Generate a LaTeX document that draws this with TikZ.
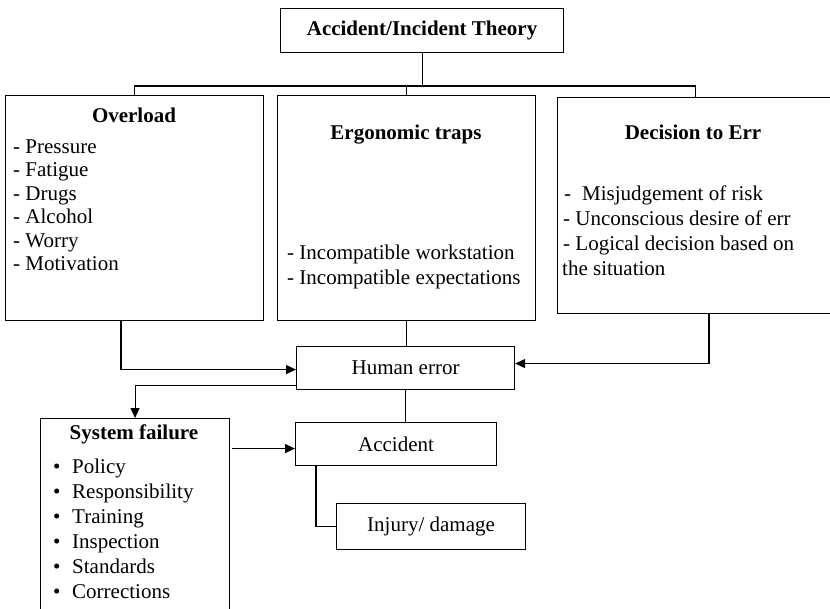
\documentclass[tikz,border=0pt]{standalone}
\usepackage{fontspec}
\setmainfont{Liberation Serif}
\usetikzlibrary{arrows.meta}
\begin{document}
\begin{tikzpicture}[x=1pt,y=-1pt,
  box/.style={draw, line width=1.1pt, inner sep=0pt, anchor=north west,
    font=\fontsize{21}{25}\selectfont},
  link/.style={line width=1.1pt},
  arr/.style={link, -{Triangle[length=10pt,width=9pt]}},
  txt/.style={inner sep=0pt, font=\fontsize{21}{25}\selectfont},
  item/.style={txt, anchor=base west},
  head/.style={inner sep=0pt, anchor=base, font=\fontsize{21}{25}\selectfont\bfseries}]
\useasboundingbox (0,0) rectangle (830,608);
\begin{scope}
\clip (0,0) rectangle (830,608);

% boxes
\node[box, minimum width=283pt, minimum height=44pt, font=\fontsize{21}{25}\selectfont\bfseries]
  (theory) at (280,8) {Accident/Incident Theory};
\node[box, minimum width=258pt, minimum height=225pt] (overload) at (5,95) {};
\node[box, minimum width=258pt, minimum height=225pt] (ergo) at (277,95) {};
\node[box, minimum width=276pt, minimum height=216pt] (decision) at (557,97) {};
\node[box, minimum width=218pt, minimum height=43pt] (human) at (296,346) {Human error};
\node[box, minimum width=201pt, minimum height=43pt] (accident) at (295,422) {Accident};
\node[box, minimum width=189pt, minimum height=46pt] (injury) at (336,503) {Injury/ damage};
\node[box, minimum width=189pt, minimum height=210pt] (sysfail) at (40,418) {};

% box contents
\node[head] (olhead) at (134,122.5) {Overload};
\foreach \t [count=\i] in {Pressure,Fatigue,Drugs,Alcohol,Worry,Motivation}
  \node[item] (ol\i) at (13,{153+23.5*(\i-1)}) {- \t};

\node[head] (erhead) at (406,139) {Ergonomic traps};
\node[item] (er1) at (287,259) {- Incompatible workstation};
\node[item] (er2) at (287,284) {- Incompatible expectations};

\node[head] (dehead) at (693,139) {Decision to Err};
\node[item] (de1) at (564,200) {-\hspace{11pt}Misjudgement of risk};
\node[item] (de2) at (563,225) {- Unconscious desire of err};
\node[item] (de3) at (563,250) {- Logical decision based on};
\node[item] (de4) at (562,275) {the situation};

\node[head] (sfhead) at (134,439) {System failure};
\foreach \t [count=\i] in {Policy,Responsibility,Training,Inspection,Standards,Corrections}
  \node[item] (sf\i) at (53,{473+25*(\i-1)}) {\makebox[19pt][l]{•}\t};

% connectors
\coordinate (bus) at (0,86);
\coordinate (olx) at (121,0);
\coordinate (dex) at (709,0);
\coordinate (acx) at (316,0);
\draw[link] (theory.south) -- (theory.south |- bus);
\draw[link] (overload.north) -- (overload.north |- bus)
  -- (decision.north |- bus) -- (decision.north);
\draw[link] (ergo.north) -- (ergo.north |- bus);
\draw[link] (ergo.south) -- (ergo.south |- human.north);
\draw[arr] (olx |- overload.south) |- ([yshift=-1.5pt]human.west);
\draw[arr] (dex |- decision.south) |- ([yshift=4.5pt]human.east);
\draw[arr] ([yshift=-17.5pt]human.west) -| (sysfail.north);
\draw[link] (human.south) -- (human.south |- accident.north);
\coordinate (sfa) at ([yshift=-4.5pt]accident.west);
\draw[arr] (sfa -| sysfail.east) ++(2,0) -- (sfa);
\draw[link] (acx |- accident.south) |- (injury.west);
\end{scope}
\end{tikzpicture}
\end{document}
